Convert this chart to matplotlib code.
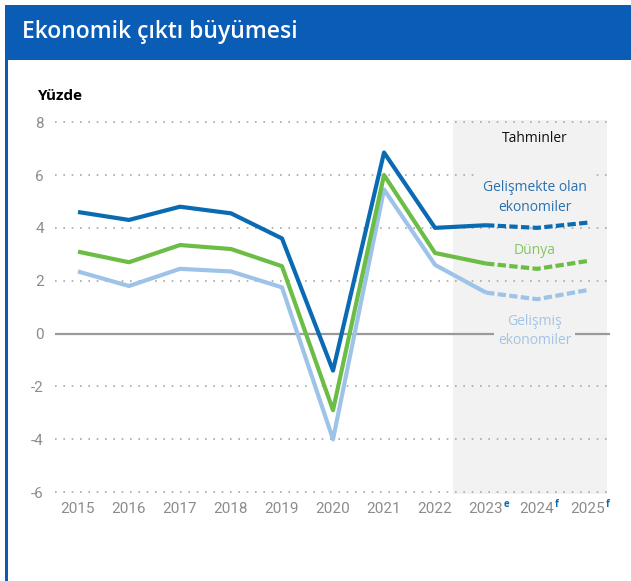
import matplotlib
matplotlib.use("Agg")
import matplotlib.pyplot as plt
import matplotlib.patches as mpatches

years = [2015, 2016, 2017, 2018, 2019, 2020, 2021, 2022, 2023, 2024, 2025]
year_labels = ["2015", "2016", "2017", "2018", "2019", "2020", "2021", "2022", "2023", "2024", "2025"]
year_marks = ["", "", "", "", "", "", "", "", "e", "f", "f"]
emde = [4.6, 4.3, 4.8, 4.55, 3.6, -1.4, 6.85, 4.0, 4.1, 4.0, 4.2]
world = [3.1, 2.7, 3.35, 3.2, 2.55, -2.9, 6.0, 3.05, 2.65, 2.45, 2.75]
adv = [2.35, 1.8, 2.45, 2.35, 1.75, -4.0, 5.45, 2.6, 1.55, 1.3, 1.65]
yticks = [-6, -4, -2, 0, 2, 4, 6, 8]
n_actual = 9  # solid through 2023, dashed after

BLUE_HDR = "#0b5cb5"
C_EMDE = "#0a6bb3"
C_WORLD = "#6cbd45"
C_ADV = "#9ec3e8"
SHADE = "#f2f2f2"
GREY = "#8c8c8c"

plt.rcParams["font.family"] = ["Open Sans", "DejaVu Sans"]

fig = plt.figure(figsize=(6.31, 5.81), dpi=100)
W, H = 631, 581

# header bar + left frame line
fig.patches.append(mpatches.Rectangle((5 / W, 1 - 60 / H), 1, 55 / H, transform=fig.transFigure,
                                      facecolor=BLUE_HDR, edgecolor="none"))
fig.patches.append(mpatches.Rectangle((5 / W, 0), 2.5 / W, 1 - 5 / H, transform=fig.transFigure,
                                      facecolor=BLUE_HDR, edgecolor="none"))
fig.text(22 / W, 1 - 32 / H, "Ekonomik çıktı büyümesi", color="white", fontsize=16.5,
         va="center", ha="left", fontweight="semibold")
fig.text(38 / W, 1 - 96 / H, "Yüzde", color="black", fontsize=11, fontweight="bold",
         va="center", ha="left")

ax = fig.add_axes([55 / W, 1 - 493.5 / H, (610 - 55) / W, (493.5 - 119.5) / H])
ax.set_xlim(2014.55, 2025.43)
ax.set_ylim(-6.05, 8.1)
for s in ax.spines.values():
    s.set_visible(False)

# forecast shading
ax.axvspan(2022.35, 2025.37, ymin=0, ymax=1, color=SHADE, zorder=0, lw=0)

for v in yticks:
    if v == 0:
        ax.axhline(v, color="#9a9a9a", lw=1.6, zorder=1)
    else:
        ax.axhline(v, color="#a8a8a8", lw=1.2, ls=(0, (1, 4)), zorder=1)

for vals, c in [(adv, C_ADV), (world, C_WORLD), (emde, C_EMDE)]:
    ax.plot(years[:n_actual], vals[:n_actual], color=c, lw=3, zorder=3, solid_capstyle="butt")
    ax.plot(years[n_actual - 1:], vals[n_actual - 1:], color=c, lw=3, ls=(0, (2, 0.8)), zorder=3)

ax.set_yticks(yticks)
ax.set_yticklabels([str(v) for v in yticks], family=["Roboto", "DejaVu Sans"])
ax.set_xticks(years)
ax.set_xticklabels(year_labels, family=["Roboto", "DejaVu Sans"])
ax.tick_params(axis="both", length=0, labelsize=11, labelcolor=GREY)
ax.tick_params(axis="y", pad=8)
ax.tick_params(axis="x", pad=6)

for x, m in zip(years, year_marks):
    if m:
        ax.annotate(m, xy=(x, 0), xycoords=ax.get_xaxis_transform(), xytext=(12.5, -8),
                    textcoords="offset points", fontsize=7, fontweight="bold",
                    color=C_EMDE, ha="left", va="center")

lab_x = 2023.95
ax.text(lab_x, 7.4, "Tahminler", ha="center", va="center", fontsize=10, color="#111111", zorder=2)
ax.text(lab_x, 5.15, "Gelişmekte olan\nekonomiler", ha="center", va="center", fontsize=10,
        color="#2a70b0", linespacing=1.4, zorder=2,
        bbox=dict(facecolor=SHADE, edgecolor="none", pad=6))
ax.text(lab_x, 3.15, "Dünya", ha="center", va="center", fontsize=10, color="#86c562", zorder=2)
ax.text(lab_x, 0.1, "Gelişmiş\nekonomiler", ha="center", va="center", fontsize=10,
        color="#a3c4e6", linespacing=1.4, zorder=2,
        bbox=dict(facecolor=SHADE, edgecolor="none", pad=3))

fig.savefig("out.png", dpi=100)
